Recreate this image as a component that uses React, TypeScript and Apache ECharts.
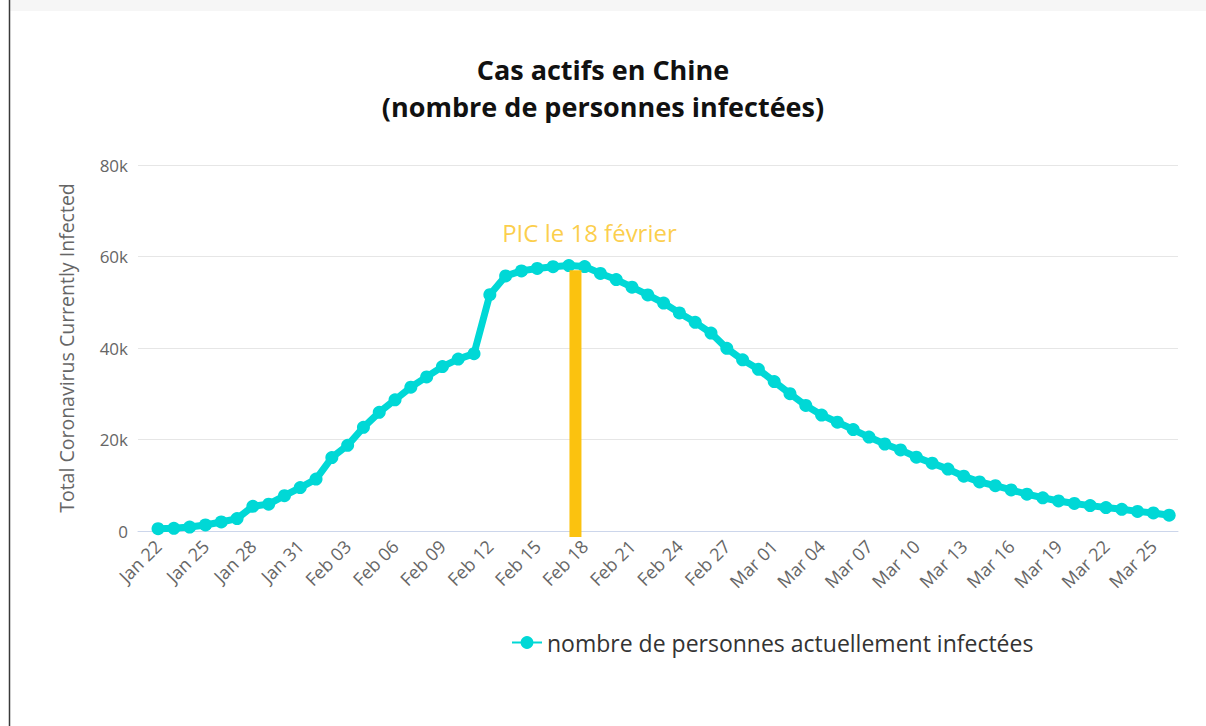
import React, { useEffect, useRef } from "react";
import * as echarts from "echarts";

const dates: string[] = [
  "Jan 22", "Jan 23", "Jan 24", "Jan 25", "Jan 26", "Jan 27", "Jan 28", "Jan 29", "Jan 30", "Jan 31",
  "Feb 01", "Feb 02", "Feb 03", "Feb 04", "Feb 05", "Feb 06", "Feb 07", "Feb 08", "Feb 09", "Feb 10",
  "Feb 11", "Feb 12", "Feb 13", "Feb 14", "Feb 15", "Feb 16", "Feb 17", "Feb 18", "Feb 19", "Feb 20",
  "Feb 21", "Feb 22", "Feb 23", "Feb 24", "Feb 25", "Feb 26", "Feb 27", "Feb 28", "Feb 29",
  "Mar 01", "Mar 02", "Mar 03", "Mar 04", "Mar 05", "Mar 06", "Mar 07", "Mar 08", "Mar 09", "Mar 10",
  "Mar 11", "Mar 12", "Mar 13", "Mar 14", "Mar 15", "Mar 16", "Mar 17", "Mar 18", "Mar 19", "Mar 20",
  "Mar 21", "Mar 22", "Mar 23", "Mar 24", "Mar 25", "Mar 26",
];

const activeCases: number[] = [
  503, 595, 858, 1325, 1971, 2707, 5397, 5869, 7710, 9491,
  11341, 16049, 18723, 22655, 25934, 28662, 31442, 33684, 35942, 37572,
  38762, 51659, 55744, 56849, 57384, 57764, 58016, 57805, 56303, 54965,
  53284, 51606, 49824, 47672, 45604, 43258, 39919, 37414, 35329,
  32652, 30004, 27433, 25352, 23784, 22177, 20533, 19016, 17721, 16145,
  14831, 13526, 11981, 10734, 9893, 8967, 8056, 7263, 6569, 6013,
  5549, 5120, 4735, 4287, 3947, 3460,
];

const tickIndices: number[] = [0, 3, 6, 9, 12, 15, 18, 21, 24, 27, 30, 33, 36, 39, 42, 45, 48, 51, 54, 57, 60, 63];
const yTicks: number[] = [0, 20000, 40000, 60000, 80000];

const peakPosition = 26.42;
const peakBar: [number, number][] = [
  [peakPosition, -1300],
  [peakPosition, 57000],
];

const titleText = "Cas actifs en Chine\n(nombre de personnes infectées)";
const seriesName = "nombre de personnes actuellement infectées";
const peakLabel = "PIC le 18 février";
const yAxisName = "Total Coronavirus Currently Infected";

export default function App() {
  const ref = useRef<HTMLDivElement>(null);

  useEffect(() => {
    if (!ref.current) return;
    const chart = echarts.init(ref.current, undefined, { renderer: "svg" });
    const font = "'Open Sans', sans-serif";
    const cyan = "#00d8d6";
    chart.setOption({
      animation: false,
      backgroundColor: "#ffffff",
      textStyle: { fontFamily: font },
      graphic: [
        { type: "rect", shape: { x: 10, y: 0, width: 1196, height: 11 }, style: { fill: "#f6f6f6" }, silent: true },
        { type: "line", shape: { x1: 9.5, y1: 0, x2: 9.5, y2: 726 }, style: { stroke: "#3a3a3a", lineWidth: 1.5 }, silent: true },
      ],
      title: {
        text: titleText,
        left: "center",
        top: 46,
        textStyle: {
          fontFamily: font,
          fontSize: 27,
          fontWeight: "bold",
          color: "#111111",
          lineHeight: 37,
        },
      },
      legend: {
        data: [seriesName],
        left: 506,
        top: 626,
        itemWidth: 30,
        itemHeight: 16,
        itemGap: 10,
        textStyle: { fontFamily: font, fontSize: 23, color: "#333333" },
      },
      grid: { left: 138, right: 28, top: 165, bottom: 195, containLabel: false },
      xAxis: {
        type: "value",
        min: -1.27,
        max: 64.56,
        splitLine: { show: false },
        axisTick: { show: false },
        axisLine: { show: true, lineStyle: { color: "#ccd6eb", width: 1 } },
        axisLabel: {
          customValues: tickIndices,
          formatter: (v: number) => dates[Math.round(v)] ?? "",
          rotate: 45,
          margin: 12,
          color: "#666666",
          fontSize: 18,
          fontFamily: font,
        },
      },
      yAxis: {
        type: "value",
        min: yTicks[0],
        max: yTicks[yTicks.length - 1],
        interval: 20000,
        name: yAxisName,
        nameLocation: "middle",
        nameGap: 62,
        nameTextStyle: { color: "#666666", fontSize: 19.5, fontFamily: font },
        axisLine: { show: false },
        axisTick: { show: false },
        splitLine: { lineStyle: { color: "#e6e6e6", width: 1 } },
        axisLabel: {
          margin: 10,
          color: "#666666",
          fontSize: 17,
          fontFamily: font,
          formatter: (v: number) => (v === 0 ? "0" : v / 1000 + "k"),
        },
      },
      series: [
        {
          name: seriesName,
          type: "line",
          data: activeCases.map((v, i) => [i, v]),
          color: cyan,
          lineStyle: { width: 7, color: cyan },
          symbol: "circle",
          symbolSize: 13,
          showSymbol: true,
          itemStyle: { color: cyan },
          z: 3,
        },
        {
          name: "peak",
          type: "line",
          data: peakBar,
          clip: false,
          symbol: "none",
          lineStyle: { width: 12, color: "#fbc20f", cap: "butt" },
          z: 4,
        },
        {
          name: "peakLabel",
          type: "scatter",
          data: [peakBar[1]],
          symbolSize: 1,
          itemStyle: { color: "rgba(0,0,0,0)" },
          label: {
            show: true,
            formatter: peakLabel,
            position: "inside",
            offset: [14, -38],
            color: "#fbc21a",
            fontSize: 24,
            fontFamily: font,
          },
          z: 5,
        },
      ],
    });
    return () => chart.dispose();
  }, []);

  return (
    <div
      ref={ref}
      style={{ position: "fixed", left: 0, top: 0, width: 1206, height: 726 }}
    />
  );
}
